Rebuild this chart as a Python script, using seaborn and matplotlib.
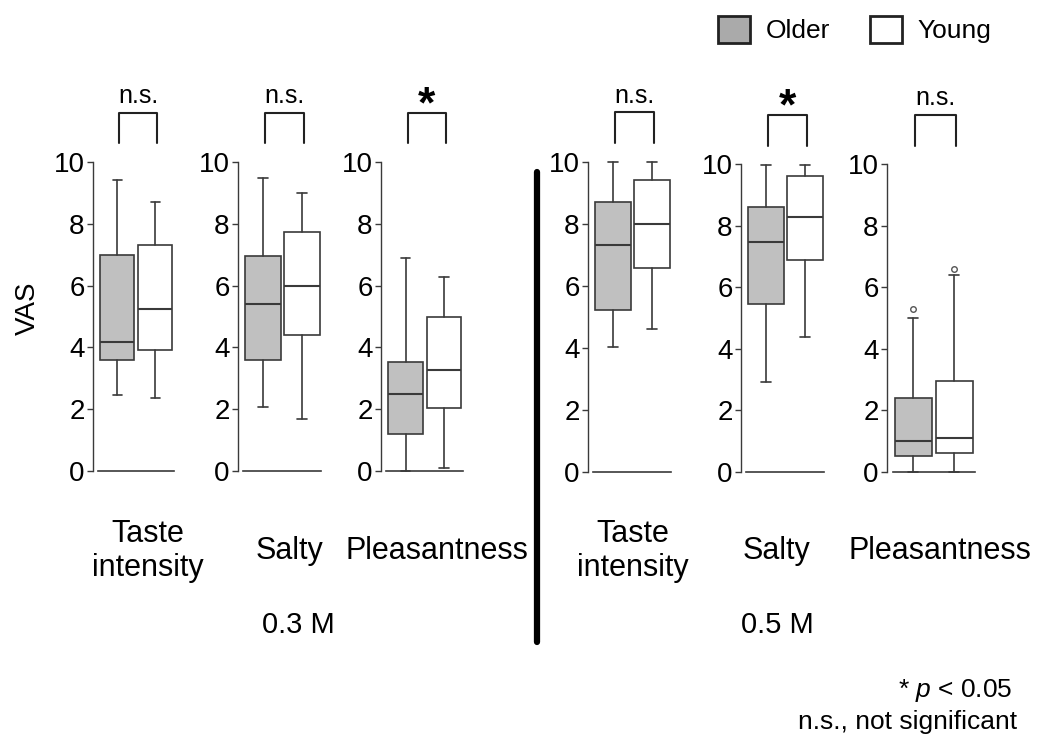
import matplotlib
matplotlib.use('Agg')
import matplotlib.pyplot as plt
import seaborn as sns
from matplotlib.patches import Patch
from matplotlib.lines import Line2D

# --- datos ---
measures = ['Taste\nintensity', 'Salty', 'Pleasantness',
            'Taste\nintensity', 'Salty', 'Pleasantness']
concentrations = ['0.3 M', '0.5 M']
significance = ['n.s.', 'n.s.', '*', 'n.s.', '*', 'n.s.']
groups = ['Older', 'Young']

older_whislo = [2.46, 2.08, 0.00, 4.02, 2.91, 0.00]
older_q1 = [3.60, 3.60, 1.19, 5.24, 5.47, 0.51]
older_med = [4.16, 5.39, 2.50, 7.31, 7.47, 1.00]
older_q3 = [6.98, 6.95, 3.53, 8.70, 8.62, 2.41]
older_whishi = [9.41, 9.48, 6.89, 10.0, 9.96, 4.99]
older_fliers = [[], [], [], [], [], [5.30]]

young_whislo = [2.37, 1.68, 0.09, 4.61, 4.37, 0.00]
young_q1 = [3.91, 4.39, 2.04, 6.59, 6.89, 0.61]
young_med = [5.23, 5.98, 3.28, 8.00, 8.28, 1.10]
young_q3 = [7.30, 7.74, 4.97, 9.41, 9.62, 2.95]
young_whishi = [8.72, 9.00, 6.29, 10.0, 9.96, 6.40]
young_fliers = [[], [], [], [], [], [6.59]]

# --- estilo ---
sns.set_style('ticks')
plt.rcParams['font.family'] = ['Liberation Sans', 'DejaVu Sans']
plt.rcParams['mathtext.fontset'] = 'custom'
plt.rcParams['mathtext.rm'] = 'Liberation Sans'
plt.rcParams['mathtext.it'] = 'Liberation Sans:italic'
plt.rcParams['text.color'] = 'black'
plt.rcParams['ytick.labelcolor'] = 'black'

W, H = 1042, 737
fig = plt.figure(figsize=(W / 100, H / 100), dpi=100)


def fx(x):
    return x / W


def fy(y):
    return 1 - y / H


# posiciones de los paneles en píxeles (eje izq., unidad, arriba, abajo)
ax_left = [93, 238, 381, 588, 741, 887]
ax_unit = [38, 39, 38.5, 39, 39, 41]
ax_top = [162, 162, 162, 162, 164, 164]
ax_bottom = [471, 471, 471, 472, 472, 472]

edge = '#3a3a3a'
older_color = '#c0c0c0'

for i in range(6):
    w = 2.14 * ax_unit[i]
    ax = fig.add_axes([fx(ax_left[i]), fy(ax_bottom[i]), fx(w), (ax_bottom[i] - ax_top[i]) / H])
    stats = [
        dict(med=older_med[i], q1=older_q1[i], q3=older_q3[i], whislo=older_whislo[i],
             whishi=older_whishi[i], fliers=older_fliers[i], label=groups[0]),
        dict(med=young_med[i], q1=young_q1[i], q3=young_q3[i], whislo=young_whislo[i],
             whishi=young_whishi[i], fliers=young_fliers[i], label=groups[1]),
    ]
    bp = ax.bxp(stats, positions=[1, 2], widths=0.9, patch_artist=True, showfliers=True,
                capwidths=0.25,
                boxprops=dict(edgecolor=edge, linewidth=1.2),
                whiskerprops=dict(color=edge, linewidth=1.2),
                capprops=dict(color=edge, linewidth=1.2),
                medianprops=dict(color=edge, linewidth=1.5),
                flierprops=dict(marker='o', markersize=4, markerfacecolor='none',
                                markeredgecolor='#555555', markeredgewidth=1))
    bp['boxes'][0].set_facecolor(older_color)
    bp['boxes'][1].set_facecolor('white')
    for k in bp:
        for art in bp[k]:
            art.set_clip_on(False)

    ax.set_xlim(0.36, 2.5)
    ax.set_ylim(0, 10)
    ax.set_yticks(range(0, 11, 2))
    ax.set_xticks([])
    sns.despine(ax=ax)
    ax.spines['left'].set_color(edge)
    ax.spines['left'].set_linewidth(1)
    ax.spines['bottom'].set_color(edge)
    ax.spines['bottom'].set_linewidth(1.2)
    ax.spines['bottom'].set_bounds(0.5, 2.5)
    ax.tick_params(axis='y', length=4, width=1, color=edge, labelsize=20, pad=2)
    ax.set_facecolor('none')

    # corchete de significancia
    ax.plot([1.05, 1.05, 2.05, 2.05], [10.6, 11.6, 11.6, 10.6], color='#222222',
            lw=1.5, clip_on=False)
    if significance[i] == '*':
        ax.text(1.55, 11.15, '*', ha='center', va='bottom', fontsize=32,
                fontweight='bold', clip_on=False)
    else:
        ax.text(1.55, 11.75, 'n.s.', ha='center', va='bottom', fontsize=18, clip_on=False)

    if i == 0:
        fig.text(fx(28), fy(308), 'VAS', rotation=90, ha='center', va='center', fontsize=20)

# etiquetas inferiores
label_x = [148, 289, 437, 633, 776, 940]
for i, lab in enumerate(measures):
    fig.text(fx(label_x[i]), fy(551), lab, ha='center', va='center', fontsize=22,
             linespacing=1.2)
conc_x = [298, 777]
for i, c in enumerate(concentrations):
    fig.text(fx(conc_x[i]), fy(625), c, ha='center', va='center', fontsize=21)

# línea separadora
fig.add_artist(Line2D([fx(537), fx(537)], [fy(172), fy(642)], color='black', lw=4.5))

# leyenda
handles = [Patch(facecolor='#aaaaaa', edgecolor='#222222', lw=2, label='Older'),
           Patch(facecolor='white', edgecolor='#222222', lw=2, label='Young')]
fig.legend(handles=handles, ncol=2, frameon=False, fontsize=19, handlelength=1.2,
           handleheight=1.2, loc='upper right', bbox_to_anchor=(fx(1015), fy(-8)),
           columnspacing=1.5, handletextpad=0.6)

# nota al pie
fig.text(fx(1013), fy(690), '* $p$ < 0.05', ha='right', va='center', fontsize=19)
fig.text(fx(1017), fy(722), 'n.s., not significant', ha='right', va='center', fontsize=19)

fig.savefig('out.png', dpi=100)
